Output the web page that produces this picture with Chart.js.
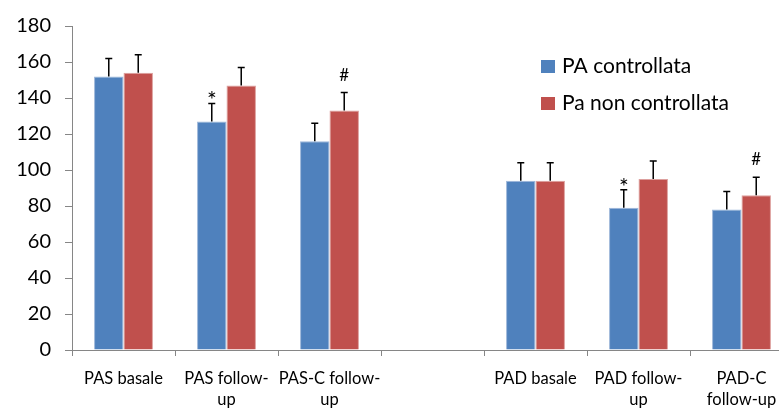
<!DOCTYPE html>
<html>
<head>
<meta charset="utf-8">
<script src="https://cdn.jsdelivr.net/npm/chart.js@4/dist/chart.umd.min.js"></script>
<style>
  html, body { margin: 0; padding: 0; background: #fff; overflow: hidden; }
  #wrap { width: 800px; height: 410px; }
</style>
</head>
<body>
<div id="wrap"><canvas id="c" width="800" height="410"></canvas></div>
<script>
// ---- data ----
const categories = [['PAS basale'], ['PAS follow-', 'up'], ['PAS-C follow-', 'up'], '', ['PAD basale'], ['PAD follow-', 'up'], ['PAD-C', 'follow-up']];
const seriesNames = ['PA controllata', 'Pa non controllata'];
const controlled = [152, 127, 116, null, 94, 79, 78];
const uncontrolled = [154, 147, 133, null, 94, 95, 86];
const errControlled = [10, 10, 10, null, 10, 10, 10];
const errUncontrolled = [10, 10, 10, null, 10, 10, 10];
const marksControlled = ['', '*', '', '', '', '*', ''];
const marksUncontrolled = ['', '', '#', '', '', '', '#'];
const yTicks = [0, 20, 40, 60, 80, 100, 120, 140, 160, 180];

const colors = ['#4F81BD', '#C0504D'];
const edgeColors = ['#9DB7DA', '#DDA09E'];
const FONT = 'Lato, "Liberation Sans", sans-serif';

const errorBarPlugin = {
  id: 'errorBars',
  afterDatasetsDraw(chart) {
    const ctx = chart.ctx;
    const y = chart.scales.y;
    const errs = [errControlled, errUncontrolled];
    const marks = [marksControlled, marksUncontrolled];
    chart.data.datasets.forEach((ds, i) => {
      const meta = chart.getDatasetMeta(i);
      meta.data.forEach((el, j) => {
        const v = ds.data[j];
        if (v == null) return;
        const top = y.getPixelForValue(v + errs[i][j]);
        ctx.save();
        ctx.strokeStyle = '#000';
        ctx.lineWidth = 1.5;
        ctx.beginPath();
        ctx.moveTo(el.x, el.y);
        ctx.lineTo(el.x, top);
        ctx.moveTo(el.x - 3.5, top);
        ctx.lineTo(el.x + 3.5, top);
        ctx.stroke();
        const m = marks[i][j];
        if (m) {
          ctx.fillStyle = '#000';
          ctx.textAlign = 'center';
          ctx.textBaseline = 'alphabetic';
          if (m === '*') {
            ctx.font = '23px ' + FONT;
            ctx.fillText(m, el.x, top + 5);
          } else {
            ctx.font = '17px ' + FONT;
            ctx.fillText(m, el.x, top - 12);
          }
        }
        ctx.restore();
      });
    });
  }
};

const legendPlugin = {
  id: 'customLegend',
  afterDraw(chart) {
    const ctx = chart.ctx;
    const rows = [66.5, 103.5];
    ctx.save();
    chart.data.datasets.forEach((ds, i) => {
      ctx.fillStyle = ds.backgroundColor;
      ctx.fillRect(541, rows[i] - 6.5, 14, 13);
      ctx.fillStyle = '#000';
      ctx.font = '21px ' + FONT;
      ctx.textAlign = 'left';
      ctx.textBaseline = 'middle';
      ctx.fillText(ds.label, 562, rows[i]);
    });
    ctx.restore();
  }
};

new Chart(document.getElementById('c'), {
  type: 'bar',
  data: {
    labels: categories,
    datasets: [
      { label: seriesNames[0], data: controlled, backgroundColor: colors[0], borderColor: edgeColors[0], borderWidth: 1, categoryPercentage: 0.572, barPercentage: 1.0 },
      { label: seriesNames[1], data: uncontrolled, backgroundColor: colors[1], borderColor: edgeColors[1], borderWidth: 1, categoryPercentage: 0.572, barPercentage: 1.0 }
    ]
  },
  options: {
    responsive: false,
    animation: false,
    layout: { padding: { top: 25, right: 7, left: 0, bottom: 0 } },
    plugins: { legend: { display: false }, tooltip: { enabled: false } },
    scales: {
      x: {
        offset: true,
        grid: { display: true, offset: true, drawOnChartArea: false, tickLength: 6, color: '#868686' },
        border: { color: '#868686', width: 1 },
        ticks: { color: '#000', font: { family: FONT, size: 16.5, lineHeight: 1.27 }, padding: 12, maxRotation: 0, autoSkip: false },
        afterFit(s) { s.height = 60; }
      },
      y: {
        min: 0, max: 180,
        afterBuildTicks(s) { s.ticks = yTicks.map(v => ({ value: v })); },
        grid: { display: true, drawOnChartArea: false, tickLength: 7, color: '#868686' },
        border: { color: '#868686', width: 1 },
        ticks: { color: '#000', font: { family: FONT, size: 20 }, padding: 14 },
        afterFit(s) { s.width = 72; }
      }
    }
  },
  plugins: [errorBarPlugin, legendPlugin]
});
</script>
</body>
</html>
